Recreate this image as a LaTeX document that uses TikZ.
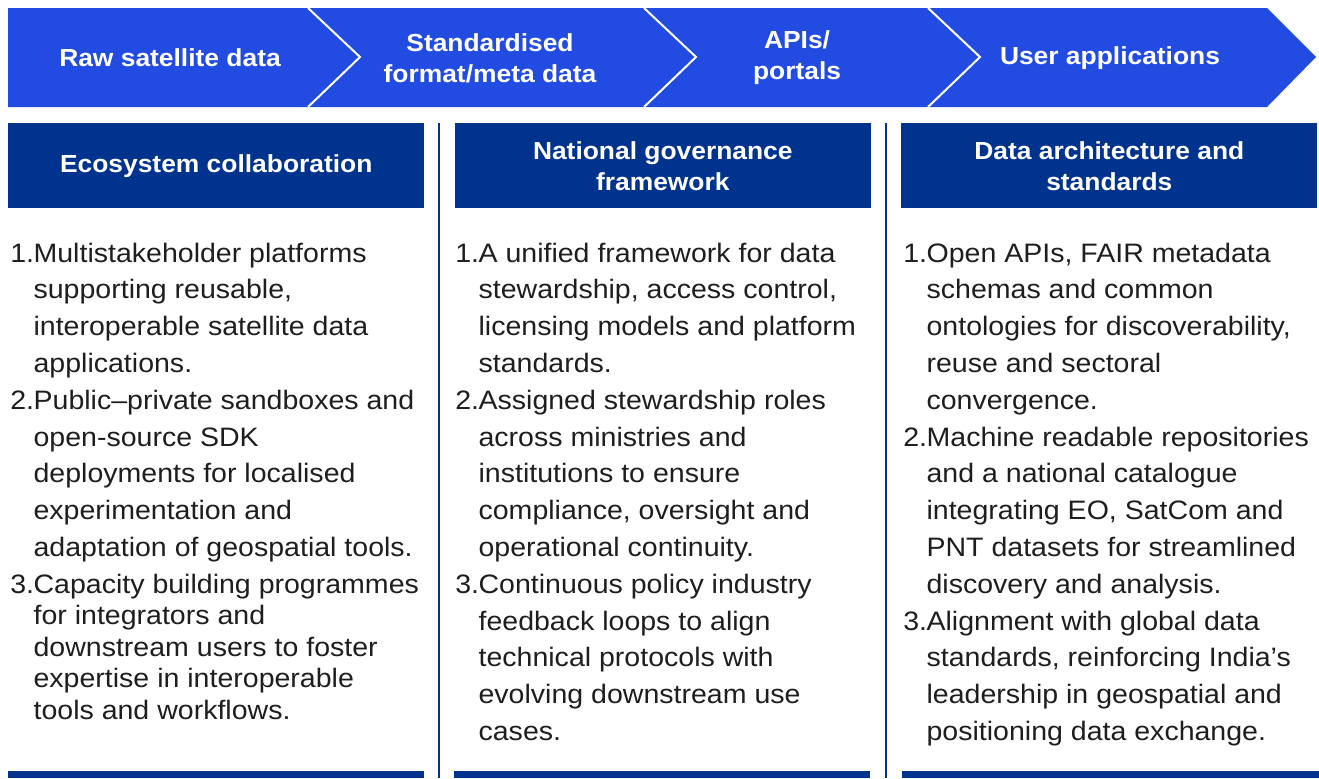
\documentclass[tikz,border=0pt]{standalone}
\usepackage{fontspec}
\setmainfont{Liberation Sans}[FakeStretch=1.07]
\usetikzlibrary{positioning}
\definecolor{sdblue}{HTML}{214BE1}
\definecolor{sdnavy}{HTML}{00338D}
\definecolor{sdtext}{HTML}{1E1E1E}

\newcommand{\bodyfont}{\fontsize{20}{27.6}\selectfont}
\newcommand{\listcol}[1]{\begin{tabular}{@{}p{17.5pt}@{}l@{}}#1\end{tabular}}

\begin{document}
\begin{tikzpicture}[x=0.75pt, y=-0.75pt, inner sep=0pt,
    head/.style={fill=sdnavy, text=white, font=\bfseries\fontsize{18.5}{23.3}\selectfont,
      align=center, minimum width=312pt, minimum height=63.75pt, anchor=north west},
    stage/.style={text=white, font=\bfseries\fontsize{18.5}{23.3}\selectfont, align=center},
    body/.style={anchor=north west, text=sdtext, font=\bodyfont},
    rule/.style={sdnavy, line width=1.5pt}]
  \useasboundingbox (0,0) rectangle (1319,778);

  % chevron banner
  \fill[sdblue] (8,8) -- (1267,8) -- (1316,57) -- (1267,107) -- (8,107) -- cycle;
  \foreach \x in {308,644,928}
    \draw[white, line width=1.5pt] (\x,8) -- (\x+52,57) -- (\x,107);
  \node[stage] (raw) at (170,58) {Raw satellite data};
  \node[stage] (fmt) at (490,58) {Standardised\\format/meta data};
  \node[stage] (api) at (797,58) {APIs/\\portals};
  \node[stage] (app) at (1110,58) {User applications};

  % column headers
  \node[head] (eco) at (8,123) {Ecosystem collaboration};
  \node[head, right=22.5pt of eco] (gov) {National governance\\framework};
  \node[head, right=22.5pt of gov] (arch) {Data architecture and\\standards};

  \draw[rule] (439,123) -- (439,778);
  \draw[rule] (886,123) -- (886,778);

  \node[body] (ecolist) at (10,236) {\listcol{
    1. & Multistakeholder platforms\\
       & supporting reusable,\\
       & interoperable satellite data\\
       & applications.\\
    2. & Public--private sandboxes and\\
       & open-source SDK\\
       & deployments for localised\\
       & experimentation and\\
       & adaptation of geospatial tools.\\
    3. & Capacity building programmes\\[-4pt]
       & for integrators and\\[-4pt]
       & downstream users to foster\\[-4pt]
       & expertise in interoperable\\[-4pt]
       & tools and workflows.}};
  \node[body] (govlist) at (455,236) {\listcol{
    1. & A unified framework for data\\
       & stewardship, access control,\\
       & licensing models and platform\\
       & standards.\\
    2. & Assigned stewardship roles\\
       & across ministries and\\
       & institutions to ensure\\
       & compliance, oversight and\\
       & operational continuity.\\
    3. & Continuous policy industry\\
       & feedback loops to align\\
       & technical protocols with\\
       & evolving downstream use\\
       & cases.}};
  \node[body] (archlist) at (903,236) {\listcol{
    1. & Open APIs, FAIR metadata\\
       & schemas and common\\
       & ontologies for discoverability,\\
       & reuse and sectoral\\
       & convergence.\\
    2. & Machine readable repositories\\
       & and a national catalogue\\
       & integrating EO, SatCom and\\
       & PNT datasets for streamlined\\
       & discovery and analysis.\\
    3. & Alignment with global data\\
       & standards, reinforcing India’s\\
       & leadership in geospatial and\\
       & positioning data exchange.}};

  % strips along the foot
  \fill[sdnavy] (8,771) rectangle (424,778);
  \fill[sdnavy] (454,771) rectangle (870,778);
  \fill[sdnavy] (902,771) rectangle (1319,778);
\end{tikzpicture}
\end{document}
